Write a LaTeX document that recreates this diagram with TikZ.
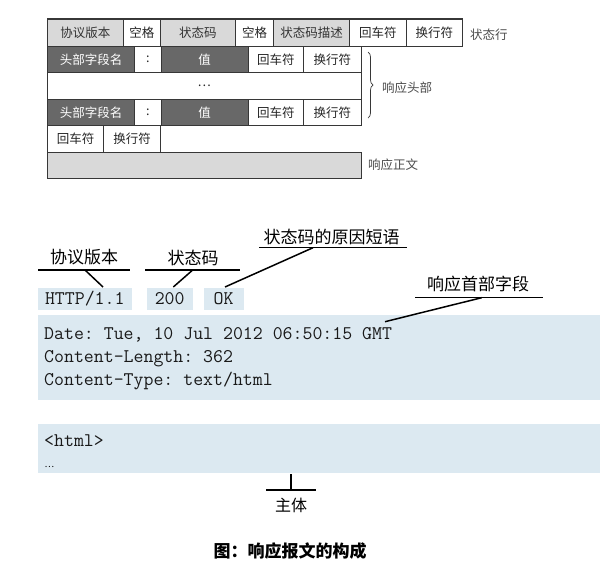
\documentclass[tikz,border=0pt]{standalone}
\usepackage{fontspec}
\setmainfont{Noto Sans CJK SC}
\usetikzlibrary{decorations.pathreplacing}
\definecolor{lg}{RGB}{217,217,217}
\definecolor{dg}{RGB}{104,104,104}
\definecolor{lb}{RGB}{220,233,241}
\definecolor{bd}{RGB}{55,55,55}
\frenchspacing
\begin{document}
\begin{tikzpicture}[x=1pt,y=-1pt,
 cell/.style={draw=bd, line width=0.8pt, anchor=north west, inner sep=0pt, font=\fontsize{12.5}{14}\selectfont, minimum height=26.5pt},
 light/.style={cell, fill=lg, text=black!80},
 dark/.style={cell, fill=dg, text=white},
 plain/.style={cell, fill=white, text=black!85},
 side/.style={font=\fontsize{12.5}{14}\selectfont, text=black!70, anchor=west, inner sep=0pt},
 code/.style={font=\ttfamily\fontsize{19.3}{22}\selectfont, anchor=base west, inner sep=0pt, text=black!90},
 bluebox/.style={fill=lb, anchor=north west, inner sep=0pt},
 lbl/.style={font=\fontsize{17}{20}\selectfont, inner sep=0pt},
 ln/.style={line width=1.5pt, black}
]
\useasboundingbox[fill=white] (0,0) rectangle (610,579);

% ---- top table ----
% row 1: status line
\node[light, minimum width=75.7pt, minimum height=26.7pt] (p1) at (47,19.3) {协议版本};
\node[plain, minimum width=37.3pt, minimum height=26.7pt] (p2) at (122.7,19.3) {空格};
\node[light, minimum width=75pt, minimum height=26.7pt] (p3) at (160,19.3) {状态码};
\node[plain, minimum width=38.3pt, minimum height=26.7pt] (p4) at (235,19.3) {空格};
\node[light, minimum width=76pt, minimum height=26.7pt] (p5) at (273.3,19.3) {状态码描述};
\node[plain, minimum width=56.4pt, minimum height=26.7pt] (p6) at (349.3,19.3) {回车符};
\node[plain, minimum width=56.6pt, minimum height=26.7pt] (p7) at (405.7,19.3) {换行符};
\draw[line width=1.8pt, bd] (p1.north west) -- (p7.north east);
\node[side] (sl) at (470,35) {状态行};

% row 2: header
\node[dark, minimum width=87.3pt, minimum height=26pt] (h1) at (47,46) {头部字段名};
\node[plain, minimum width=26.4pt, minimum height=26pt] (h2) at (134.3,46) {:};
\node[dark, minimum width=87pt, minimum height=26pt] (h3) at (160.7,46) {值};
\node[plain, minimum width=55.6pt, minimum height=26pt] (h4) at (247.7,46) {回车符};
\node[plain, minimum width=57.4pt, minimum height=26pt] (h5) at (303.3,46) {换行符};
% row 3
\node[plain, minimum width=313.7pt, minimum height=27pt] (h6) at (47,72) {…};
% row 4
\node[dark, minimum width=87.3pt, minimum height=26.3pt] (k1) at (47,99) {头部字段名};
\node[plain, minimum width=26.4pt, minimum height=26.3pt] (k2) at (134.3,99) {:};
\node[dark, minimum width=87pt, minimum height=26.3pt] (k3) at (160.7,99) {值};
\node[plain, minimum width=55.6pt, minimum height=26.3pt] (k4) at (247.7,99) {回车符};
\node[plain, minimum width=57.4pt, minimum height=26.3pt] (k5) at (303.3,99) {换行符};
% row 5
\node[plain, minimum width=56.3pt, minimum height=26.4pt] (e1) at (47,125.3) {回车符};
\node[plain, minimum width=56.7pt, minimum height=26.4pt] (e2) at (103.3,125.3) {换行符};
% row 6
\node[light, minimum width=313.7pt, minimum height=26pt] (bd6) at (47,151.7) {};

\draw[decorate, decoration={brace, amplitude=5pt}, line width=0.7pt, bd] (368,52) -- (368,118);
\node[side] (hh) at (382,88) {响应头部};
\node[side] (bt) at (368,165) {响应正文};

% ---- lower part ----
\node[bluebox, minimum width=93.7pt, minimum height=22pt] (v) at (38,288) {};
\node[code, anchor=base] (vt) at (84.8,304.5) {HTTP/1.1};
\node[bluebox, minimum width=46pt, minimum height=22pt] (c) at (146.7,288) {};
\node[code, anchor=base] (ct) at (169.7,304.5) {200};
\node[bluebox, minimum width=39.3pt, minimum height=22pt] (r) at (204,288) {};
\node[code, anchor=base] (rt) at (223.6,304.5) {OK};

\node[bluebox, minimum width=562pt, minimum height=84.3pt] (hdr) at (38,315) {};
\node[code] (l1) at (44,339.5) {Date: Tue, 10 Jul 2012 06:50:15 GMT};
\node[code] (l2) at (44,362.5) {Content-Length: 362};
\node[code] (l3) at (44,385) {Content-Type: text/html};

\node[bluebox, minimum width=562pt, minimum height=48.7pt] (bod) at (38,424) {};
\node[code] (b1) at (44,446) {<html>};
\node[font=\fontsize{9}{10}\selectfont, anchor=base west, inner sep=0pt] (b2) at (44.5,467.5) {…};

% labels
\node[lbl] (t1) at (84,257.5) {协议版本};
\coordinate (u1a) at (38,270); \coordinate (u1b) at (130,270);
\coordinate (u1m) at (85,270); \coordinate (u1e) at (103,287);
\draw[ln] (u1a) -- (u1b);
\draw[ln] (u1m) -- (u1e);

\node[lbl] (t2) at (193,257.5) {状态码};
\coordinate (u2a) at (145,270); \coordinate (u2b) at (240,270);
\coordinate (u2m) at (192.7,270); \coordinate (u2e) at (173.3,287);
\draw[ln] (u2a) -- (u2b);
\draw[ln] (u2m) -- (u2e);

\node[lbl] (t3) at (331.5,236.5) {状态码的原因短语};
\coordinate (u3a) at (259,247.7); \coordinate (u3b) at (406.7,247.7);
\coordinate (u3m) at (313,247.7); \coordinate (u3e) at (225,287);
\draw[ln] (u3a) -- (u3b);
\draw[ln] (u3m) -- (u3e);

\node[lbl] (t4) at (478,284) {响应首部字段};
\coordinate (u4a) at (415,297.7); \coordinate (u4b) at (543,297.7);
\coordinate (u4m) at (481.7,297.7); \coordinate (u4e) at (385,321.7);
\draw[ln] (u4a) -- (u4b);
\draw[ln] (u4m) -- (u4e);

\coordinate (m1) at (291,474); \coordinate (m2) at (291,490);
\coordinate (m3) at (266,490); \coordinate (m4) at (316,490);
\draw[ln] (m1) -- (m2);
\draw[ln] (m3) -- (m4);
\node[lbl, font=\fontsize{16}{18}\selectfont] (t5) at (291,505) {主体};

\node[lbl, font=\bfseries\fontsize{17}{20}\selectfont] (cap) at (290,551.5) {图：响应报文的构成};
\end{tikzpicture}
\end{document}
